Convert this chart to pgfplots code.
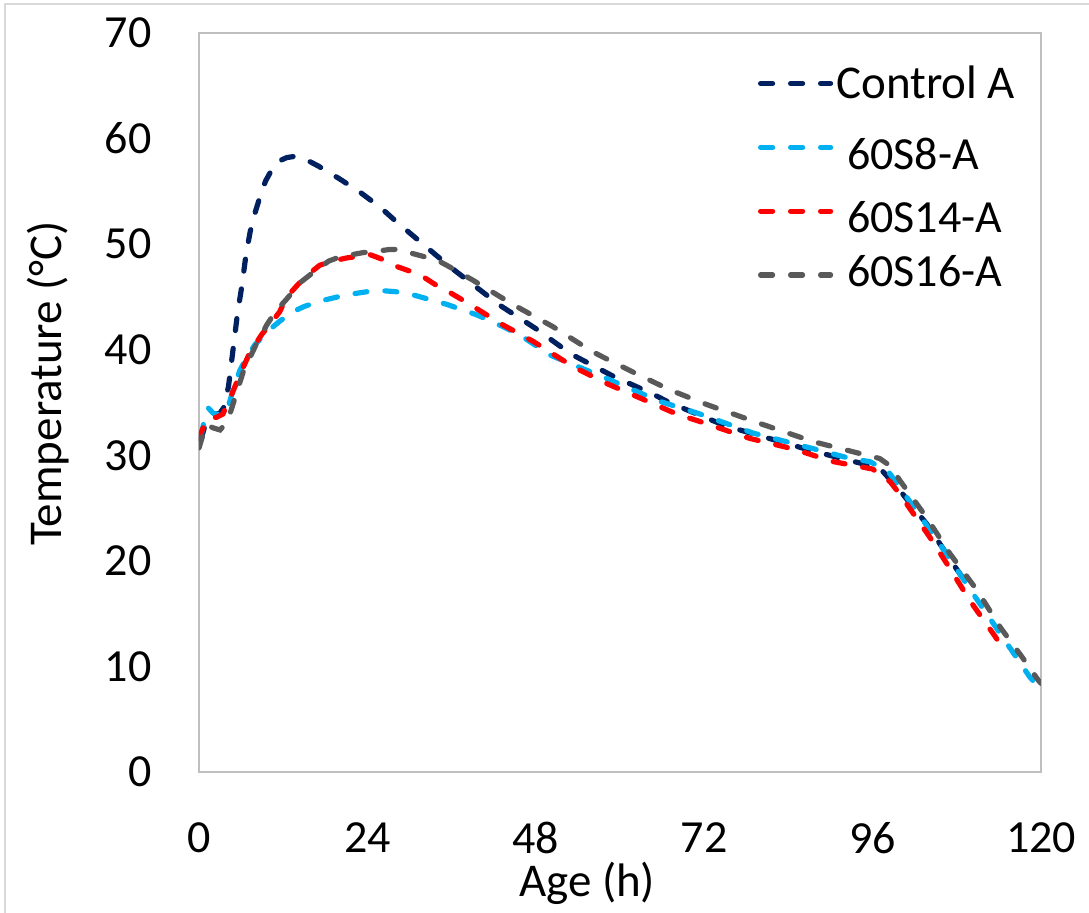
\documentclass[border=0pt]{standalone}
\usepackage{fontspec}
\setmainfont{Carlito}
\usepackage{pgfplots}
\pgfplotsset{compat=1.18}
\definecolor{cnavy}{HTML}{002060}
\definecolor{ccyan}{HTML}{00B0F0}
\definecolor{cred}{HTML}{FF0000}
\definecolor{cgray}{HTML}{595959}
\definecolor{cborder}{HTML}{BFBFBF}
\definecolor{cframe}{HTML}{D9D9D9}
\begin{document}
\begin{tikzpicture}
\path[use as bounding box] (-99.5pt,-70pt) rectangle (445pt,386pt);
\draw[cframe, line width=1pt] (-97pt,-72pt) -- (-97pt,384pt) -- (447pt,384pt);
\begin{axis}[
  at={(0,0)}, anchor=south west,
  scale only axis, width=421pt, height=369.5pt,
  xmin=0, xmax=120, ymin=0, ymax=70,
  xtick={0,24,48,72,96,120}, ytick={0,10,20,30,40,50,60,70},
  major tick length=0pt,
  axis line style={draw=cborder, line width=1pt},
  /pgf/number format/assume math mode=true,
  tick label style={font=\fontsize{23}{27}\selectfont, inner sep=0pt},
  yticklabel style={anchor=east, xshift=-23.5pt},
  xticklabel style={anchor=north, yshift=-25pt},
  xlabel={Age (h)}, ylabel={Temperature (°C)},
  label style={font=\fontsize{23.5}{27}\selectfont, inner sep=0pt},
  xlabel style={at={(axis description cs:0.461,-0.169)}, anchor=base},
  ylabel style={at={(axis description cs:-0.163,0.526)}, anchor=base},
  every axis plot/.append style={line width=2.6pt, line cap=round, dash pattern=on 6pt off 9pt},
  legend style={at={(rel axis cs:0.6639,0.9594)}, anchor=north west, draw=none, fill=none,
    inner sep=0pt, outer sep=0pt, row sep=11.4pt,
    nodes={inner sep=0pt, outer sep=0pt},
    /tikz/every odd column/.append style={column sep=1.5pt}},
  legend cell align=left,
  legend image code/.code={\draw[#1] (0pt,0pt) -- (35pt,0pt);},
]
\addplot[cnavy] coordinates {
(0.3,31.5)(1,33.2)(2,33.8)(3,34.0)(3.5,34.5)(4.2,36.5)(4.85,40)(5.5,43.5)(6.1,46)(6.7,49)(7.3,51.2)(8,53)(8.7,54.5)(9.5,56)(10.5,57.2)(11.5,57.9)(12.5,58.2)(13.5,58.3)(15,58.1)(17,57.4)(20,56.2)(23,54.9)(26,53.4)(28,52.2)(30.5,50.8)(33,49.4)(35.5,48)(38.6,46.4)(42.9,44.2)(48,42)(53,39.6)(59,37.5)(64.7,35.8)(67,35)(75,32.8)(87.5,30.4)(94,29.3)(97,28.8)(99.6,26.9)(103.7,23.5)(108,19.2)(110,17.3)
};
\addlegendentry{\rule[-11pt]{0pt}{30pt}\raisebox{1.5pt}[0pt][0pt]{\fontsize{23.5}{28}\selectfont Control A}}
\addplot[ccyan] coordinates {
(0.3,31.8)(0.8,33.5)(1.3,34.5)(2,34)(3,33.8)(4,34.2)(4.9,36.3)(5.8,38)(6.8,39.3)(8,40.5)(9.7,41.7)(11.5,42.7)(13.4,43.6)(15,44.1)(17.2,44.6)(21,45.2)(24,45.5)(26,45.6)(28,45.5)(30.5,45.2)(35.3,44.3)(39.6,43.3)(43.3,42.2)(46.2,41.2)(50,39.5)(58,37.3)(65.7,35.1)(71,34)(79,32.1)(87.1,30.7)(92.8,29.7)(95.6,29.4)(98.2,28.5)(102.3,24.7)(106.6,20.6)(110.3,16.9)(114.2,13.1)(118.4,9)(119.2,8.4)
};
\addlegendentry{\rule[-11pt]{0pt}{30pt}\raisebox{-2.5pt}[0pt][0pt]{\hspace{5.5pt}\fontsize{23}{28}\selectfont 60S8-A}}
\addplot[cred] coordinates {
(0.2,31.5)(0.4,32.3)(1,33.3)(1.6,33.5)(2.5,33.6)(3.4,33.9)(4.5,35.5)(5.8,37.6)(7.3,39.8)(9,41.5)(10,42.3)(11.5,43.6)(12.5,45)(14,46.1)(15.5,47.1)(17.2,48)(19,48.4)(21.1,48.7)(24.4,49)(26,48.6)(27.7,48)(31.5,47.1)(34.3,45.9)(35.3,45.6)(38.6,44.3)(42.9,42.5)(47.6,40.8)(53.3,38.4)(58.1,36.8)(63.3,35.3)(68.1,33.9)(71.4,33.2)(78.5,31.6)(84.7,30.6)(90.4,29.4)(96,28.7)(98.5,27.5)(99.9,26.3)(104.2,22.2)(107,19.3)(109.9,16.2)(113.4,12.9)(114,12.3)
};
\addlegendentry{\rule[-11pt]{0pt}{30pt}\raisebox{-2pt}[0pt][0pt]{\hspace{5.5pt}\fontsize{23}{28}\selectfont 60S14-A}}
\addplot[cgray] coordinates {
(0,30.7)(0.5,31.8)(1.1,32.9)(2,32.6)(3,32.4)(3.8,33)(4.4,33.9)(5.3,35.8)(6.3,37.9)(8,40.3)(9.7,42.4)(11,43.7)(12.5,44.8)(14.5,46.4)(16.8,47.6)(18.5,48.4)(20.1,48.8)(23.4,49.2)(25,49.3)(27.2,49.5)(28.5,49.5)(30.5,49.1)(33.9,48.5)(35.3,48)(39,46.6)(44.7,44.3)(50.4,42.2)(56.1,39.8)(61.8,37.9)(67.1,36.2)(72.4,34.8)(80,33)(87.5,31.3)(94.6,30.1)(97,29.7)(98.5,29)(99.9,27.6)(103.7,24.1)(107,20.7)(110.9,17.2)(114.2,13.7)(117.4,10.8)(119.6,8.7)(120,8.4)
};
\addlegendentry{\rule[-11pt]{0pt}{30pt}\raisebox{3pt}[0pt][0pt]{\hspace{5.5pt}\fontsize{23}{28}\selectfont 60S16-A}}
\end{axis}
\end{tikzpicture}
\end{document}
